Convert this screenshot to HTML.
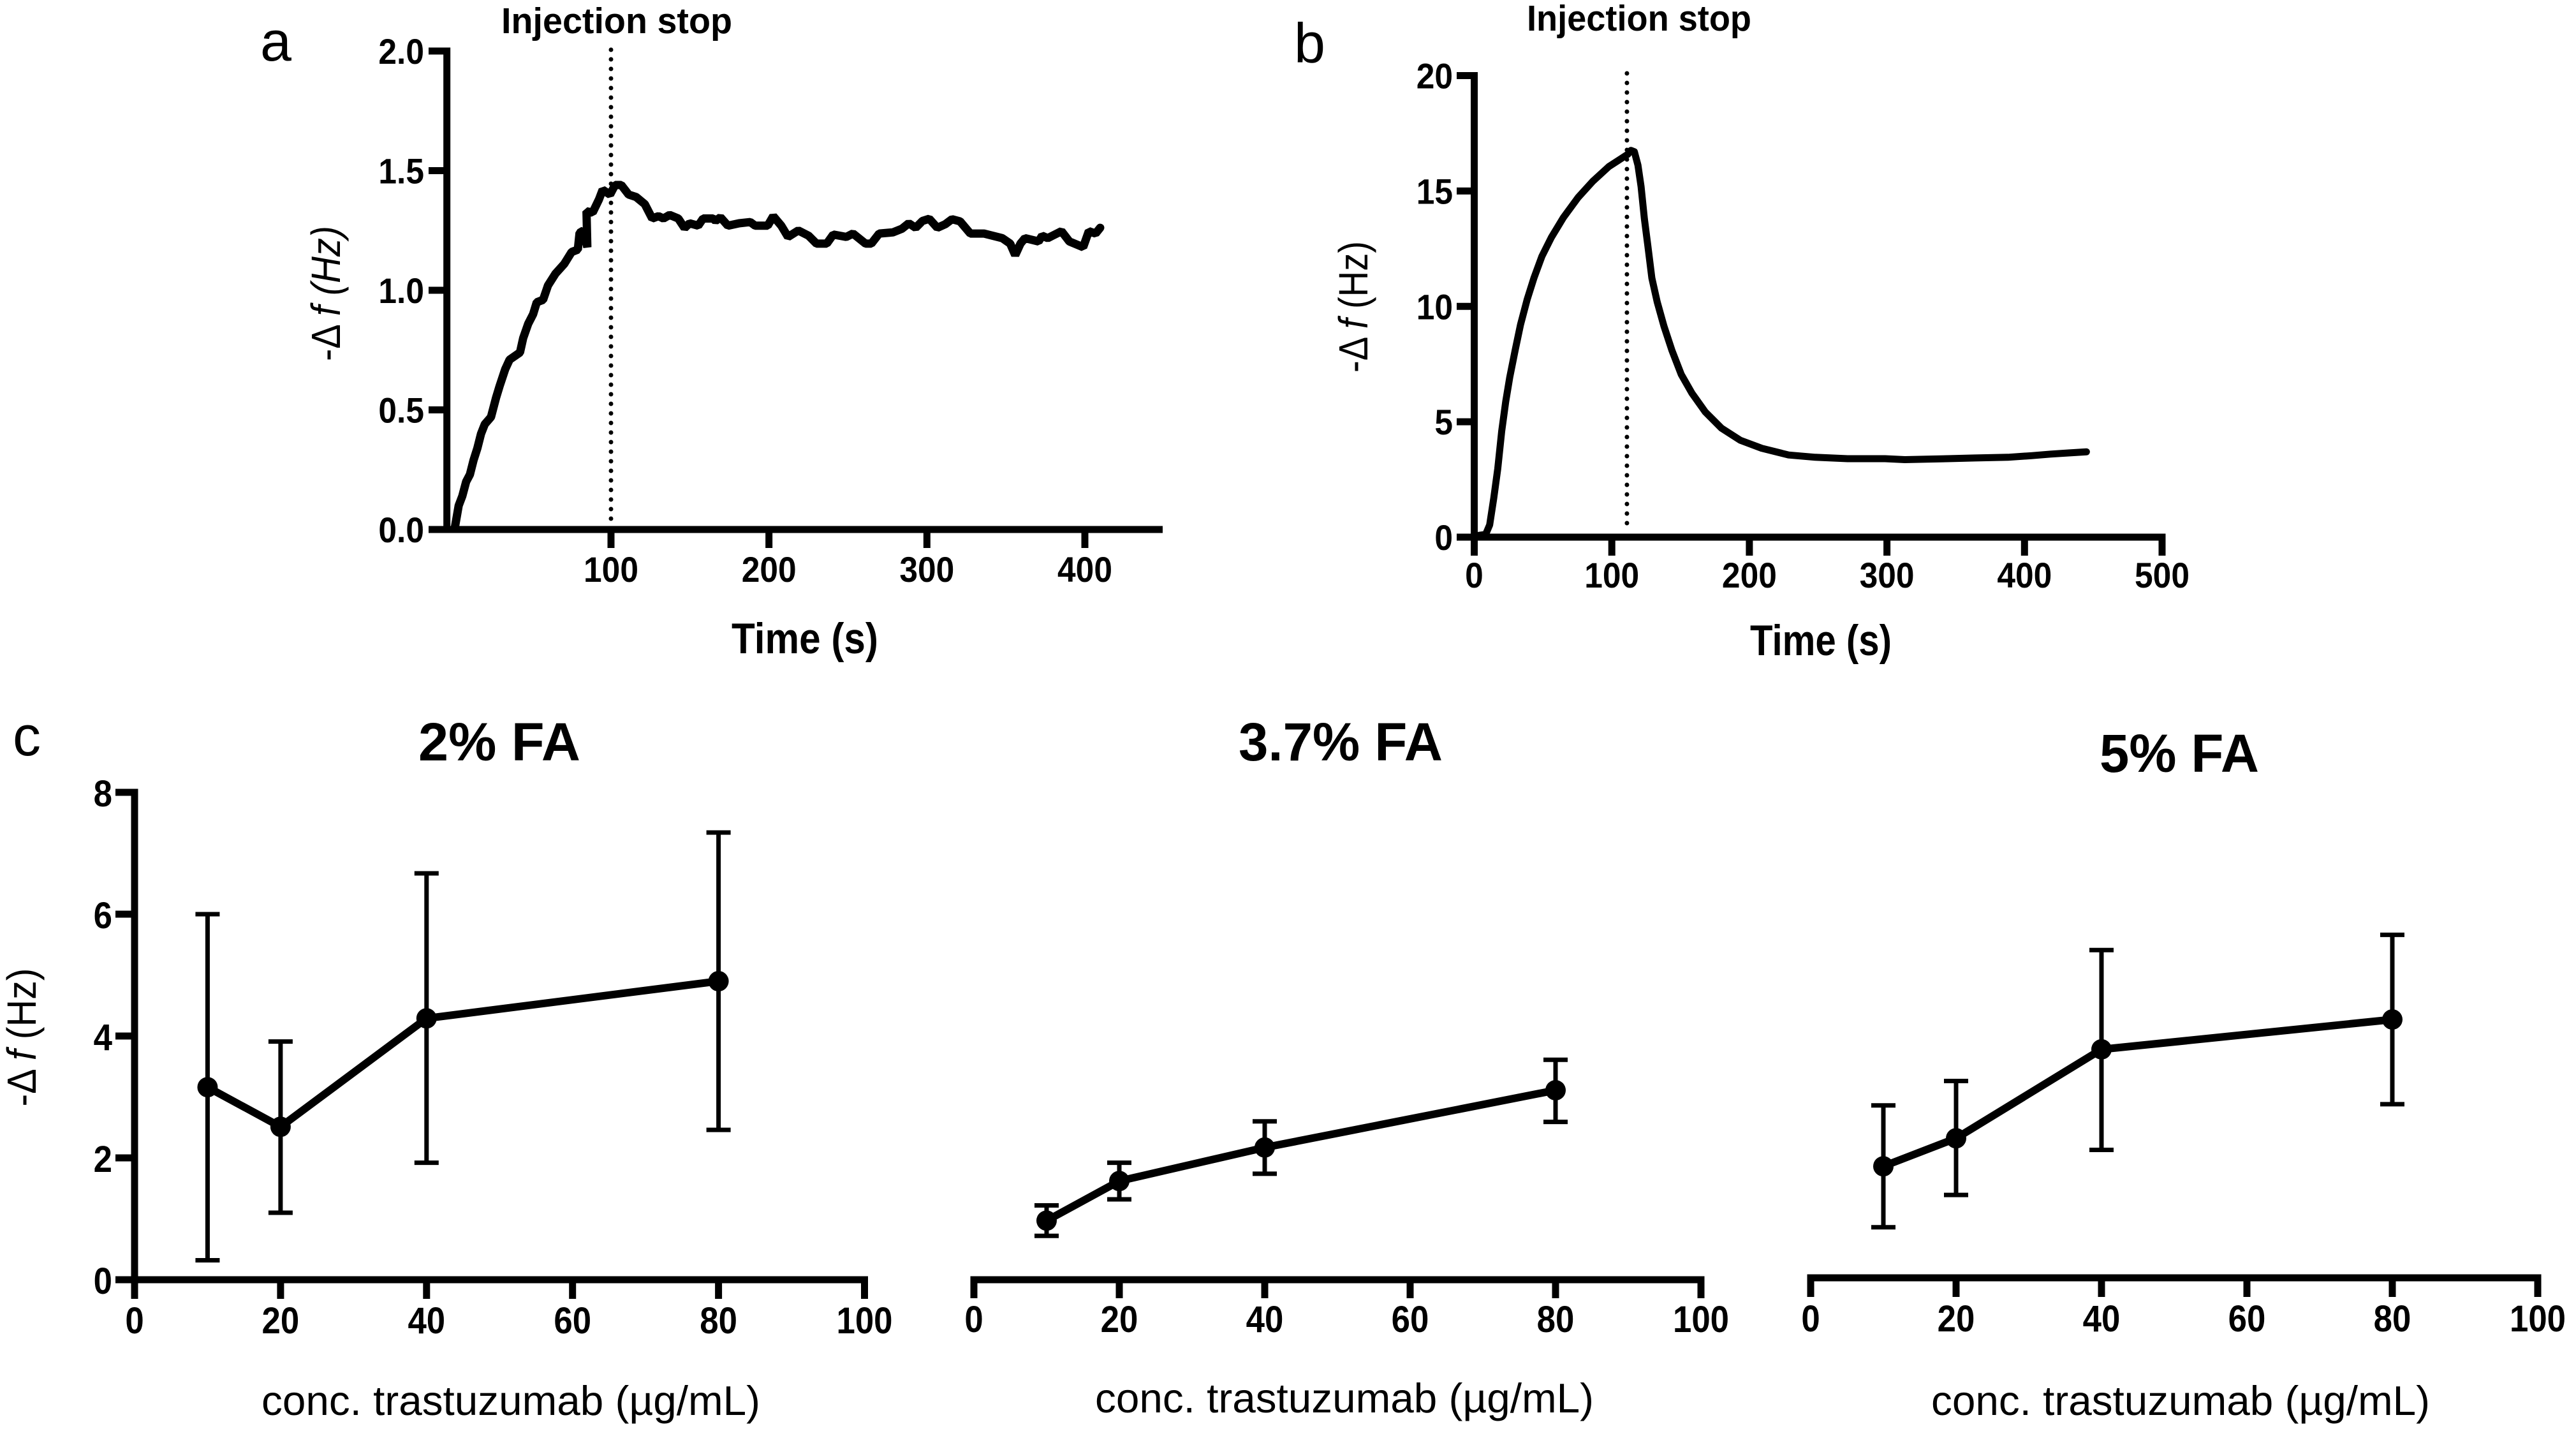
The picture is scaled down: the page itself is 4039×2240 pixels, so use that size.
<!DOCTYPE html>
<html lang="en">
<head>
<meta charset="utf-8">
<title>QCM sensorgrams and trastuzumab concentration response</title>
<style>
html,body{margin:0;padding:0;background:#fff;}
svg{display:block;}
text{font-family:"Liberation Sans",Arial,sans-serif;fill:#000;}
.b{font-weight:700;}
</style>
</head>
<body>
<svg id="figure" xmlns="http://www.w3.org/2000/svg" width="4039" height="2240" viewBox="0 0 4039 2240">
<rect x="0" y="0" width="4039" height="2240" fill="#fff"/>

<text x="408" y="95" font-size="88">a</text>
<text x="2029" y="98" font-size="88">b</text>
<text x="20" y="1184" font-size="88">c</text>

<text class="b" x="967" y="52" font-size="57" text-anchor="middle" textLength="362" lengthAdjust="spacingAndGlyphs">Injection stop</text>
<text class="b" x="2570" y="48" font-size="57" text-anchor="middle" textLength="352" lengthAdjust="spacingAndGlyphs">Injection stop</text>

<text transform="translate(533,460) rotate(-90)" font-size="64" text-anchor="middle" textLength="212" lengthAdjust="spacingAndGlyphs">-Δ <tspan font-style="italic">f (Hz)</tspan></text>
<text transform="translate(2144,481) rotate(-90)" font-size="64" text-anchor="middle" textLength="206" lengthAdjust="spacingAndGlyphs">-Δ <tspan font-style="italic">f</tspan> (Hz)</text>
<text transform="translate(56,1626) rotate(-90)" font-size="64" text-anchor="middle" textLength="217" lengthAdjust="spacingAndGlyphs">-Δ <tspan font-style="italic">f</tspan> (Hz)</text>

<text class="b" x="1262" y="1024" font-size="68" text-anchor="middle" textLength="230" lengthAdjust="spacingAndGlyphs">Time (s)</text>
<text class="b" x="2855" y="1027" font-size="68" text-anchor="middle" textLength="222" lengthAdjust="spacingAndGlyphs">Time (s)</text>

<text class="b" x="783" y="1192" font-size="84" text-anchor="middle" textLength="254" lengthAdjust="spacingAndGlyphs">2% FA</text>
<text class="b" x="2102" y="1192" font-size="84" text-anchor="middle" textLength="320" lengthAdjust="spacingAndGlyphs">3.7% FA</text>
<text class="b" x="3417" y="1210" font-size="84" text-anchor="middle" textLength="250" lengthAdjust="spacingAndGlyphs">5% FA</text>

<text x="801" y="2218" font-size="65" text-anchor="middle" textLength="782" lengthAdjust="spacingAndGlyphs">conc. trastuzumab (µg/mL)</text>
<text x="2108" y="2214" font-size="65" text-anchor="middle" textLength="782" lengthAdjust="spacingAndGlyphs">conc. trastuzumab (µg/mL)</text>
<text x="3419" y="2218" font-size="65" text-anchor="middle" textLength="782" lengthAdjust="spacingAndGlyphs">conc. trastuzumab (µg/mL)</text>
</svg>

<script>
// ---- Data ----
const aTimes = [1.2,3.6,5.9,8.3,10.7,13,15.4,17.7,20.1,24,27.2,29.5,33,35.8,42.4,44.4,47.6,50.7,53,57,60.1,64.9,70.4,75.1,79,80.1,82.6,85,84.5,88.4,92.4,94.7,99.4,102.6,106.5,111.2,115.9,121.4,126.1,130.1,133.2,137.1,142.6,146.6,149.7,155.2,158.3,164.6,166.2,169.3,174,181.1,188.2,191.3,199.2,202.7,207.8,212.1,218.6,225.1,230.1,236.6,240.7,248.9,253.2,261.2,264.8,269.8,278.4,284.2,288.5,292.9,297.2,301.5,306.6,311.6,315.9,321,327.5,336.1,347.7,352.7,355.9,359.2,362.1,370.7,372.9,376.5,385.2,390.2,398.9,402.5,406.8,409.7];
const aValues = [0.01,0.10,0.14,0.20,0.23,0.29,0.34,0.40,0.44,0.47,0.55,0.60,0.67,0.71,0.74,0.80,0.86,0.90,0.95,0.96,1.02,1.07,1.11,1.16,1.17,1.24,1.25,1.18,1.33,1.325,1.38,1.42,1.40,1.44,1.44,1.40,1.39,1.36,1.30,1.31,1.30,1.315,1.30,1.26,1.28,1.27,1.30,1.30,1.29,1.305,1.27,1.28,1.285,1.27,1.27,1.31,1.27,1.223,1.25,1.228,1.195,1.195,1.233,1.223,1.237,1.195,1.195,1.237,1.242,1.257,1.28,1.261,1.29,1.299,1.261,1.276,1.297,1.288,1.237,1.237,1.218,1.195,1.147,1.195,1.218,1.204,1.228,1.218,1.247,1.204,1.18,1.247,1.237,1.261];
const aInjectionStop = [100];
const aXTickLabels = ['100','200','300','400'];
const aYTickLabels = ['0.0','0.5','1.0','1.5','2.0'];

const bTimes = [2.5,8.3,11.2,14.2,17.1,20,22.9,25.8,29.7,33.6,38.5,43.4,49.2,56,64.8,75.5,86.2,97.9,111.6,113.9,116.4,119,121.3,123.7,126.2,129.1,133,137.9,143.7,150.5,158.3,168,179.8,193.4,209,228.5,248,271.3,298.6,313,344,364,388,405,419,432,445];
const bValues = [0.07,0.12,0.53,1.69,2.97,4.6,5.88,6.93,8.09,9.2,10.3,11.23,12.17,12.98,13.85,14.72,15.42,16.06,16.59,16.76,16.7,16.12,15.19,13.79,12.63,11.23,10.19,9.14,8.09,7.05,6.23,5.42,4.72,4.2,3.85,3.56,3.46,3.4,3.4,3.36,3.4,3.43,3.46,3.53,3.6,3.65,3.7];
const bInjectionStop = [111];
const bXTickLabels = ['0','100','200','300','400','500'];
const bYTickLabels = ['0','5','10','15','20'];

const concentrations = [10,20,40,80];
const concXTickLabels = ['0','20','40','60','80','100'];
const concYTickLabels = ['0','2','4','6','8'];

const fa2Means = [3.16,2.51,4.29,4.9];
const fa2Upper = [6.0,3.91,6.67,7.34];
const fa2Lower = [0.32,1.1,1.92,2.46];

const fa37Means = [0.97,1.62,2.17,3.11];
const fa37Upper = [1.22,1.92,2.6,3.61];
const fa37Lower = [0.72,1.32,1.74,2.59];

const fa5Means = [1.83,2.29,3.75,4.24];
const fa5Upper = [2.83,3.23,5.38,5.63];
const fa5Lower = [0.83,1.36,2.1,2.85];

// ---- Drawing ----
const NS = 'http://www.w3.org/2000/svg';
const svg = document.getElementById('figure');

function make(tag, attrs, name, parent) {
  const el = document.createElementNS(NS, tag);
  for (const k in attrs) el.setAttribute(k, attrs[k]);
  
  
  (parent || svg).appendChild(el);
  return el;
}

function linear(d0, d1, r0, r1) {
  return function (v) { return r0 + (v - d0) * (r1 - r0) / (d1 - d0); };
}

function seg(x1, y1, x2, y2, w, name, parent) {
  return make('line', {x1: x1, y1: y1, x2: x2, y2: y2, stroke: '#000', 'stroke-width': w}, name, parent);
}

function tickText(str, x, y, size, sx, anchor, name, parent) {
  const t = make('text', {
    transform: 'translate(' + x + ',' + y + ') scale(' + sx + ',1)',
    'font-size': size,
    'font-weight': 700,
    'text-anchor': anchor
  }, name, parent);
  t.textContent = str;
  return t;
}

function drawAxes(p) {
  const g = make('g', {}, p.id + '-axes');
  const lw = p.lineWidth;
  seg(p.sx(p.yAxisAt), p.sy(p.yMax) - lw / 2, p.sx(p.yAxisAt), p.sy(0) + lw / 2, lw, p.id + '-y-axis-line', g);
  seg(p.xLineStart, p.sy(0), p.xLineEnd, p.sy(0), lw, p.id + '-x-axis-line', g);
  p.xTicks.forEach(function (label) {
    const x = p.sx(Number(label));
    seg(x, p.sy(0), x, p.xTickEnd, p.tickWidth, p.id + '-x-tick-' + label, g);
    tickText(label, x, p.xLabelBase, p.labelSize, p.labelScale, 'middle', p.id + '-x-tick-label-' + label, g);
  });
  if (p.yTicks) {
    p.yTicks.forEach(function (label) {
      const y = p.sy(Number(label));
      seg(p.yTickStart, y, p.sx(p.yAxisAt), y, p.tickWidth, p.id + '-y-tick-' + label, g);
      tickText(label, p.yLabelRight, y + p.yLabelDrop, p.labelSize, p.labelScale, 'end', p.id + '-y-tick-label-' + label, g);
    });
  }
}

function drawInjection(p, t, top, bottom) {
  const x = p.sx(t);
  make('line', {
    x1: x, y1: top, x2: x, y2: bottom,
    stroke: '#000', 'stroke-width': 7,
    'stroke-linecap': 'round', 'stroke-dasharray': '0 15'
  }, p.id + '-injection-stop-line');
}

function drawCurve(p, xs, ys, w, join, name) {
  const pts = xs.map(function (t, i) { return p.sx(t).toFixed(1) + ',' + p.sy(ys[i]).toFixed(1); }).join(' ');
  make('polyline', {
    points: pts, fill: 'none', stroke: '#000', 'stroke-width': w,
    'stroke-linejoin': join, 'stroke-linecap': 'round'
  }, name);
}

function drawDose(p, means, upper, lower) {
  const g = make('g', {}, p.id + '-series');
  concentrations.forEach(function (c, i) {
    const x = p.sx(c);
    seg(x, p.sy(upper[i]), x, p.sy(lower[i]), 7, p.id + '-error-bar-' + c, g);
    seg(x - 19, p.sy(upper[i]), x + 19, p.sy(upper[i]), 7, p.id + '-error-cap-upper-' + c, g);
    seg(x - 19, p.sy(lower[i]), x + 19, p.sy(lower[i]), 7, p.id + '-error-cap-lower-' + c, g);
  });
  const pts = concentrations.map(function (c, i) { return p.sx(c).toFixed(1) + ',' + p.sy(means[i]).toFixed(1); }).join(' ');
  make('polyline', {points: pts, fill: 'none', stroke: '#000', 'stroke-width': 12, 'stroke-linejoin': 'round'}, p.id + '-mean-line', g);
  concentrations.forEach(function (c, i) {
    make('circle', {cx: p.sx(c), cy: p.sy(means[i]), r: 16, fill: '#000'}, p.id + '-point-' + c, g);
  });
}

const panelA = {
  id: 'panel-a',
  sx: linear(100, 400, 958, 1701),
  sy: linear(0, 2, 830, 80),
  yMax: 2, yAxisAt: -3.9, lineWidth: 11, tickWidth: 11,
  xLineStart: 672, xLineEnd: 1823, xTickEnd: 859, xLabelBase: 912,
  labelSize: 56, labelScale: 0.92, yTickStart: 672, yLabelRight: 665, yLabelDrop: 20,
  xTicks: aXTickLabels, yTicks: aYTickLabels
};
const panelB = {
  id: 'panel-b',
  sx: linear(0, 500, 2311.5, 3390),
  sy: linear(0, 20, 842, 118.5),
  yMax: 20, yAxisAt: 0, lineWidth: 11, tickWidth: 11,
  xLineStart: 2284, xLineEnd: 3395.5, xTickEnd: 871, xLabelBase: 921,
  labelSize: 56, labelScale: 0.92, yTickStart: 2284, yLabelRight: 2278, yLabelDrop: 20,
  xTicks: bXTickLabels, yTicks: bYTickLabels
};
const panelC1 = {
  id: 'fa-2-percent',
  sx: linear(0, 100, 211, 1355.5),
  sy: linear(0, 8, 2006, 1242),
  yMax: 8, yAxisAt: 0, lineWidth: 11, tickWidth: 11,
  xLineStart: 181, xLineEnd: 1361, xTickEnd: 2036, xLabelBase: 2090,
  labelSize: 58, labelScale: 0.91, yTickStart: 181, yLabelRight: 176, yLabelDrop: 22,
  xTicks: concXTickLabels, yTicks: concYTickLabels
};
const panelC2 = {
  id: 'fa-3-7-percent',
  sx: linear(0, 100, 1527, 2667),
  sy: linear(0, 8, 2006, 1242),
  yMax: 8, yAxisAt: 0, lineWidth: 11, tickWidth: 11,
  xLineStart: 1521.5, xLineEnd: 2672.5, xTickEnd: 2035, xLabelBase: 2088,
  labelSize: 58, labelScale: 0.91, xTicks: concXTickLabels, yTicks: null
};
const panelC3 = {
  id: 'fa-5-percent',
  sx: linear(0, 100, 2839, 3979),
  sy: linear(0, 8, 2003, 1239),
  yMax: 8, yAxisAt: 0, lineWidth: 11, tickWidth: 11,
  xLineStart: 2833.5, xLineEnd: 3984.5, xTickEnd: 2033, xLabelBase: 2087,
  labelSize: 58, labelScale: 0.91, xTicks: concXTickLabels, yTicks: null
};

drawAxes(panelA);
drawInjection(panelA, aInjectionStop[0], 78, 822);
drawCurve(panelA, aTimes, aValues, 13, 'bevel', 'panel-a-frequency-curve');

drawAxes(panelB);
drawInjection(panelB, bInjectionStop[0], 115, 835);
drawCurve(panelB, bTimes, bValues, 11, 'round', 'panel-b-frequency-curve');

// The y axis is only drawn on the first dose chart.
function drawBaseOnly(p) {
  const g = make('g', {}, p.id + '-axes');
  seg(p.xLineStart, p.sy(0), p.xLineEnd, p.sy(0), p.lineWidth, p.id + '-x-axis-line', g);
  p.xTicks.forEach(function (label) {
    const x = p.sx(Number(label));
    seg(x, p.sy(0), x, p.xTickEnd, p.tickWidth, p.id + '-x-tick-' + label, g);
    tickText(label, x, p.xLabelBase, p.labelSize, p.labelScale, 'middle', p.id + '-x-tick-label-' + label, g);
  });
}

drawAxes(panelC1);
drawDose(panelC1, fa2Means, fa2Upper, fa2Lower);

drawBaseOnly(panelC2);
drawDose(panelC2, fa37Means, fa37Upper, fa37Lower);

drawBaseOnly(panelC3);
drawDose(panelC3, fa5Means, fa5Upper, fa5Lower);
</script>
</body>
</html>
